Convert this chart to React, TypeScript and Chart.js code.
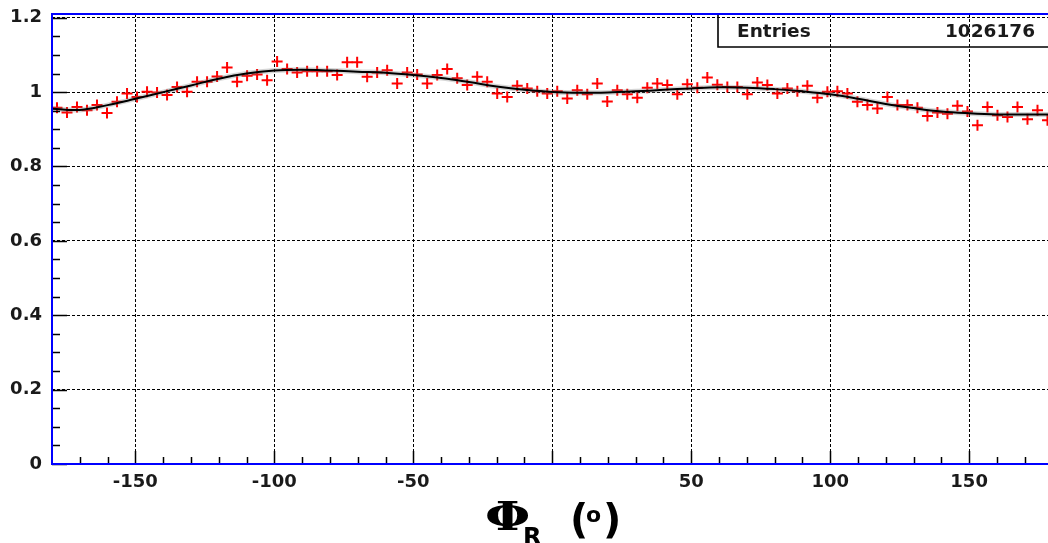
import React, { useEffect, useRef } from "react";
import { Chart, registerables } from "chart.js";

Chart.register(...registerables);

// Histogram binning (100 bins from -180 to 180 degrees)
const binLow = -180;
const binWidth = 3.6;

// Ratio per bin
const ratioValues = [
  0.958, 0.945, 0.96, 0.951, 0.965, 0.944, 0.974, 0.996, 0.987, 1.001,
  0.999, 0.992, 1.014, 1.001, 1.028, 1.028, 1.042, 1.066, 1.028, 1.044,
  1.047, 1.032, 1.082, 1.062, 1.053, 1.056, 1.056, 1.056, 1.046, 1.08,
  1.08, 1.041, 1.053, 1.059, 1.023, 1.053, 1.047, 1.023, 1.046, 1.062,
  1.037, 1.019, 1.041, 1.028, 0.996, 0.987, 1.017, 1.01, 1.002, 0.996,
  1.002, 0.983, 1.005, 0.994, 1.023, 0.975, 1.005, 0.994, 0.985, 1.012,
  1.023, 1.019, 0.994, 1.021, 1.012, 1.039, 1.02, 1.014, 1.014, 0.994,
  1.026, 1.019, 0.996, 1.01, 1.002, 1.017, 0.985, 1.001, 1.002, 0.996,
  0.974, 0.965, 0.956, 0.987, 0.965, 0.965, 0.958, 0.936, 0.945, 0.942,
  0.963, 0.948, 0.911, 0.96, 0.938, 0.933, 0.96, 0.927, 0.951, 0.924,
];

// Fit curve, sampled every 10 degrees
const fitPhi = [
  -180, -170, -160, -150, -140, -130, -120, -110, -100, -90, -80, -70, -60,
  -50, -40, -30, -20, -10, 0, 10, 20, 30, 40, 50, 60, 70, 80, 90, 100, 110,
  120, 130, 140, 150, 160, 170, 180,
];
const fitValues = [
  0.955, 0.952, 0.965, 0.982, 1.0, 1.018, 1.036, 1.05, 1.058, 1.06, 1.058,
  1.055, 1.052, 1.046, 1.038, 1.027, 1.015, 1.006, 1.0, 0.998, 0.999, 1.002,
  1.006, 1.01, 1.013, 1.012, 1.008, 1.002, 0.994, 0.982, 0.968, 0.957, 0.948,
  0.943, 0.94, 0.94, 0.94,
];

// Axis ticks
const xTickValues = [-150, -100, -50, 0, 50, 100, 150];
const yTickValues = [0, 0.2, 0.4, 0.6, 0.8, 1.0, 1.2];
const xMinorStep = 10;
const yMinorStep = 0.05;

const statsLabel = "Entries";
const statsValue = "1026176";

const TICK_FONT = { family: "'DejaVu Sans', sans-serif", weight: "bold" as const, size: 18 };

const framePlugin = {
  id: "rootFrame",
  afterDraw(chart: any) {
    const { ctx, chartArea: a, scales } = chart;
    const xs = scales.x;
    const ys = scales.y;
    ctx.save();
    // tick marks (inside)
    ctx.strokeStyle = "#000";
    ctx.lineWidth = 1.5;
    ctx.beginPath();
    for (let v = -170; v < 180; v += xMinorStep) {
      const px = Math.round(xs.getPixelForValue(v)) + 0.5;
      const major = xTickValues.includes(v);
      const len = major ? 13 : 7;
      ctx.moveTo(px, a.bottom);
      ctx.lineTo(px, a.bottom - len);
    }
    for (let k = 0; k <= 24; k++) {
      const v = k * yMinorStep;
      const py = Math.round(ys.getPixelForValue(v)) + 0.5;
      const major = k % 4 === 0;
      const len = major ? 15 : 8;
      ctx.moveTo(a.left, py);
      ctx.lineTo(a.left + len, py);
    }
    ctx.stroke();

    // stats box
    ctx.strokeStyle = "#000";
    ctx.lineWidth = 1.6;
    ctx.beginPath();
    ctx.moveTo(718, a.top);
    ctx.lineTo(718, 47);
    ctx.lineTo(chart.width + 5, 47);
    ctx.stroke();
    ctx.fillStyle = "#1a1a1a";
    ctx.font = "bold 18.5px 'DejaVu Sans', sans-serif";
    ctx.textBaseline = "alphabetic";
    ctx.textAlign = "left";
    ctx.fillText(statsLabel, 737, 37);
    ctx.textAlign = "right";
    ctx.fillText(statsValue, 1035, 37);

    // frame (left, bottom, top; right edge lies outside the picture)
    ctx.strokeStyle = "#0000ff";
    ctx.lineWidth = 2;
    ctx.beginPath();
    ctx.moveTo(a.right + 10, a.top);
    ctx.lineTo(a.left, a.top);
    ctx.lineTo(a.left, a.bottom);
    ctx.lineTo(a.right + 10, a.bottom);
    ctx.stroke();

    // axis title  Φ_R (°)
    ctx.fillStyle = "#000";
    ctx.textAlign = "left";
    ctx.save();
    ctx.translate(485, 530);
    ctx.scale(1.3, 1);
    ctx.font = "bold 40px 'DejaVu Serif', serif";
    ctx.fillText("Φ", 0, 0);
    ctx.restore();
    ctx.font = "bold 24px 'DejaVu Sans', sans-serif";
    ctx.fillText("R", 523, 545);
    ctx.font = "bold 40px 'DejaVu Sans', sans-serif";
    ctx.fillText("(", 570, 533);
    ctx.font = "bold 22px 'DejaVu Sans', sans-serif";
    ctx.fillText("o", 586, 522);
    ctx.font = "bold 40px 'DejaVu Sans', sans-serif";
    ctx.fillText(")", 603, 533);
    ctx.restore();
  },
};

export default function App() {
  const canvasRef = useRef<HTMLCanvasElement | null>(null);

  useEffect(() => {
    const canvas = canvasRef.current;
    if (!canvas) return;
    const points = ratioValues.map((v, i) => ({ x: binLow + binWidth * (i + 0.5), y: v }));
    const fit = fitPhi.map((p, i) => ({ x: p, y: fitValues[i] }));

    const chart = new Chart(canvas, {
      type: "scatter",
      data: {
        datasets: [
          {
            label: "fit",
            data: fit,
            showLine: true,
            borderColor: "#000",
            borderWidth: 2,
            pointRadius: 0,
            tension: 0.4,
            fill: false,
          } as any,
          {
            label: "fit halo",
            data: fit,
            showLine: true,
            borderColor: "rgba(120,120,120,0.3)",
            borderWidth: 5,
            pointRadius: 0,
            tension: 0.4,
            fill: false,
          } as any,
          {
            label: "data",
            data: points,
            showLine: false,
            pointStyle: "cross",
            pointRadius: 5.5,
            pointBorderWidth: 2,
            pointBorderColor: "#ff0000",
            pointBackgroundColor: "#ff0000",
          } as any,
        ],
      },
      options: {
        animation: false,
        responsive: false,
        events: [],
        layout: { padding: { top: 14, right: 6, left: 0, bottom: 0 } },
        plugins: {
          legend: { display: false },
          tooltip: { enabled: false },
        },
        scales: {
          x: {
            type: "linear",
            min: -180,
            max: 180,
            afterBuildTicks: (s: any) => {
              s.ticks = xTickValues.map((v) => ({ value: v }));
            },
            afterFit: (s: any) => {
              s.height = 79;
              s.paddingLeft = 0;
              s.paddingRight = 0;
              s.paddingTop = 0;
              s.paddingBottom = 0;
            },
            ticks: {
              callback: (v: any) => (Number(v) === 0 ? "" : String(v)),
              font: TICK_FONT,
              color: "#1a1a1a",
              padding: 8,
              maxRotation: 0,
              autoSkip: false,
            },
            grid: { color: "#000", lineWidth: 1, drawTicks: false },
            border: { display: false, dash: [3, 2] },
          },
          y: {
            type: "linear",
            min: 0,
            max: 1.21,
            afterBuildTicks: (s: any) => {
              s.ticks = yTickValues.map((v) => ({ value: v }));
            },
            afterFit: (s: any) => {
              s.width = 52;
              s.paddingLeft = 0;
              s.paddingRight = 0;
              s.paddingTop = 0;
              s.paddingBottom = 0;
            },
            ticks: {
              callback: (v: any) => String(Math.round(Number(v) * 10) / 10),
              font: TICK_FONT,
              color: "#1a1a1a",
              padding: 10,
              autoSkip: false,
            },
            grid: { color: "#000", lineWidth: 1, drawTicks: false },
            border: { display: false, dash: [3, 2] },
          },
        },
      } as any,
      plugins: [framePlugin],
    });
    return () => chart.destroy();
  }, []);

  return (
    <div
      style={{
        position: "fixed",
        left: 0,
        top: 0,
        width: 1048,
        height: 543,
        overflow: "hidden",
        background: "#fff",
      }}
    >
      <canvas
        ref={canvasRef}
        width={1060}
        height={543}
        style={{ display: "block", width: 1060, height: 543 }}
      />
    </div>
  );
}
